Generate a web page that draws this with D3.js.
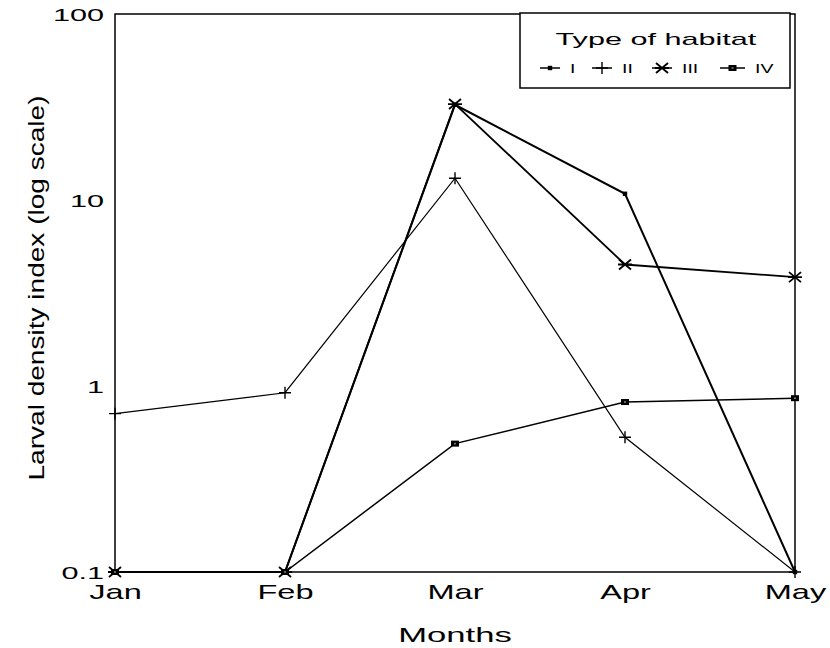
<!DOCTYPE html>
<html><head><meta charset="utf-8">
<script src="https://cdn.jsdelivr.net/npm/d3@7"></script>
<style>body{margin:0;background:#fff}svg{display:block}</style>
</head><body>
<svg id="chart" width="830" height="648"></svg>
<script>
// Larval density index by month for four habitat types (log scale)
const months = ["Jan", "Feb", "Mar", "Apr", "May"];
const habitatI   = [0.1, 0.1, 32.5, 10.8, 0.1];
const habitatII  = [0.71, 0.92, 13.1, 0.53, 0.1];
const habitatIII = [0.1, 0.1, 32.8, 4.5, 3.85];
const habitatIV  = [0.1, 0.1, 0.49, 0.82, 0.86];
const habitatNames = ["I", "II", "III", "IV"];
const yTicks = [0.1, 1, 10, 100];
const yTickLabels = ["0.1", "1", "10", "100"];

const series = [
  {name: habitatNames[0], values: habitatI,   marker: "dot",      width: 2.0},
  {name: habitatNames[1], values: habitatII,  marker: "plus",     width: 1.2},
  {name: habitatNames[2], values: habitatIII, marker: "asterisk", width: 1.8},
  {name: habitatNames[3], values: habitatIV,  marker: "square",   width: 1.5}
];

const svg = d3.select("#chart");
const plotLeft = 115, plotRight = 795, plotTop = 14, plotBottom = 572;
const font = "'Liberation Sans', Arial, sans-serif";

const x = d3.scalePoint().domain(months).range([plotLeft, plotRight]);
const y = d3.scaleLog().domain([0.1, 100]).range([plotBottom, plotTop]);

// stretch text horizontally to get the wide lettering
function widen(sel, factor) {
  sel.each(function () {
    const w = this.getComputedTextLength();
    d3.select(this).attr("textLength", w * factor).attr("lengthAdjust", "spacingAndGlyphs");
  });
}

function drawMarker(g, type, cx, cy) {
  const s = g.append("g").attr("transform", `translate(${cx},${cy})`);
  if (type === "dot") {
    s.append("rect").attr("x", -2.2).attr("y", -2.2).attr("width", 4.4).attr("height", 4.4).attr("fill", "#000");
  } else if (type === "plus") {
    s.append("path").attr("d", "M-6,0H6M0,-6V6").attr("stroke", "#000").attr("stroke-width", 1.4).attr("fill", "none");
  } else if (type === "asterisk") {
    s.append("path").attr("d", "M-6,-5L6,5M-6,5L6,-5M-7,0H7").attr("stroke", "#000").attr("stroke-width", 1.8).attr("fill", "none");
  } else if (type === "square") {
    s.append("rect").attr("x", -4).attr("y", -3).attr("width", 8).attr("height", 6).attr("fill", "#000");
    s.append("rect").attr("x", -1).attr("y", -0.8).attr("width", 2).attr("height", 1.6).attr("fill", "#777");
  }
}

// plot frame
svg.append("rect")
  .attr("x", plotLeft).attr("y", plotTop)
  .attr("width", plotRight - plotLeft).attr("height", plotBottom - plotTop)
  .attr("fill", "none").attr("stroke", "#000").attr("stroke-width", 1.5);

// y axis labels
const yAxis = d3.axisLeft(y).tickValues(yTicks).tickSize(0)
  .tickFormat((d, i) => yTickLabels[i]);
const yg = svg.append("g").attr("transform", `translate(${plotLeft - 11},0)`).call(yAxis);
yg.select(".domain").remove();
yg.selectAll("text").attr("font-family", font).attr("font-size", 17).attr("fill", "#000")
  .attr("dy", "0.36em").attr("x", 0);
widen(yg.selectAll("text"), 1.8);

// x axis labels
const xAxis = d3.axisBottom(x).tickSize(0);
const xg = svg.append("g").attr("transform", `translate(0,${plotBottom})`).call(xAxis);
xg.select(".domain").remove();
xg.selectAll("text").attr("font-family", font).attr("font-size", 21).attr("fill", "#000")
  .attr("y", 27).attr("dy", 0);
widen(xg.selectAll("text"), 1.55);

// axis titles
const xt = svg.append("text").attr("x", (plotLeft + plotRight) / 2).attr("y", 642)
  .attr("text-anchor", "middle").attr("font-family", font).attr("font-size", 21)
  .text("Months");
widen(xt, 1.65);

svg.append("text")
  .attr("transform", "translate(44,288) rotate(-90)")
  .attr("text-anchor", "middle")
  .attr("font-family", "'Liberation Sans Narrow', 'Arial Narrow', 'Liberation Sans', sans-serif")
  .attr("font-size", 22)
  .attr("textLength", 385).attr("lengthAdjust", "spacingAndGlyphs")
  .text("Larval density index (log scale)");

// series lines and markers
const line = d3.line().x((d, i) => x(months[i])).y(d => y(d));
series.forEach(s => {
  svg.append("path").datum(s.values)
    .attr("d", line).attr("fill", "none")
    .attr("stroke", "#000").attr("stroke-width", s.width)
    .attr("stroke-linejoin", "miter");
});
series.forEach(s => {
  s.values.forEach((v, i) => drawMarker(svg, s.marker, x(months[i]), y(v)));
});

// legend
const lg = svg.append("g");
lg.append("rect").attr("x", 520).attr("y", 13).attr("width", 270).attr("height", 75)
  .attr("fill", "#fff").attr("stroke", "#000").attr("stroke-width", 1.5);
const lt = lg.append("text").attr("x", 656).attr("y", 45).attr("text-anchor", "middle")
  .attr("font-family", font).attr("font-size", 17).text("Type of habitat");
widen(lt, 1.8);

const legendX = [540, 592, 652, 720];
series.forEach((s, i) => {
  const x0 = legendX[i];
  const len = i === 3 ? 25 : 20;
  lg.append("path").attr("d", `M${x0},68H${x0 + len}`).attr("stroke", "#000").attr("stroke-width", 1.5);
  drawMarker(lg, s.marker, x0 + len / 2, 68);
  const t = lg.append("text").attr("x", x0 + len + 10).attr("y", 73)
    .attr("font-family", font).attr("font-size", 13).text(s.name);
  widen(t, 1.5);
});
</script>
</body></html>
